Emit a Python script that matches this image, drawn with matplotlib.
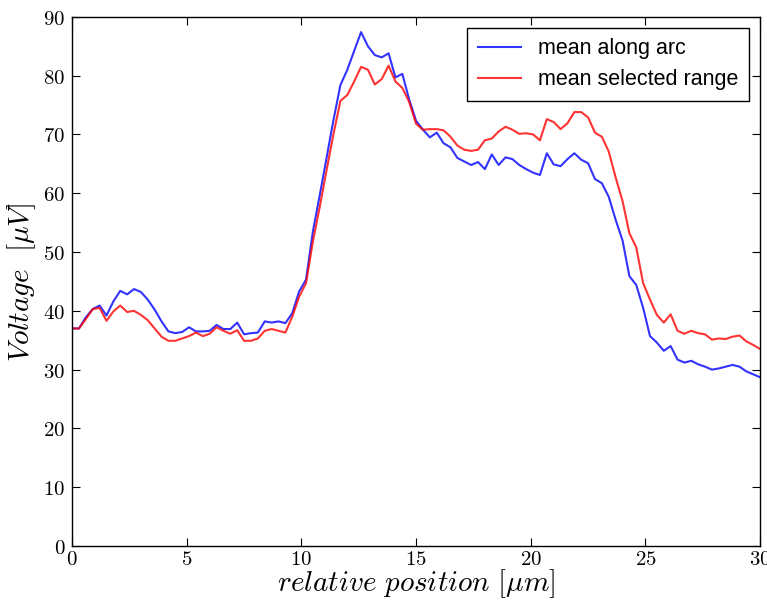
import numpy as np
from matplotlib import pyplot as plt
from matplotlib.ticker import FuncFormatter

plt.rcParams['mathtext.fontset'] = 'cm'

# positions along the arc, 0.3 um steps
position = np.arange(101) * 0.3

meanAlongArc = [
    37.0, 37.0, 38.9, 40.3, 40.9, 39.2, 41.6, 43.4, 42.8, 43.7,
    43.2, 41.9, 40.2, 38.2, 36.5, 36.2, 36.4, 37.2, 36.5, 36.5,
    36.6, 37.6, 36.9, 36.9, 38.0, 36.0, 36.2, 36.3, 38.2, 38.0,
    38.2, 37.9, 39.6, 43.3, 45.3, 53.5, 59.7, 66.1, 72.5, 78.4,
    81.0, 84.2, 87.4, 85.0, 83.5, 83.1, 83.8, 79.7, 80.3, 75.9,
    72.3, 70.8, 69.5, 70.3, 68.5, 67.8, 66.0, 65.4, 64.8, 65.3,
    64.1, 66.6, 64.8, 66.1, 65.8, 64.8, 64.1, 63.5, 63.1, 66.8,
    64.9, 64.6, 65.8, 66.8, 65.7, 65.1, 62.4, 61.7, 59.4, 55.5,
    52.0, 45.9, 44.4, 40.5, 35.7, 34.6, 33.2, 34.0, 31.7, 31.2,
    31.5, 30.9, 30.5, 30.0, 30.2, 30.5, 30.8, 30.5, 29.7, 29.2,
    28.7]

meanSelectedRange = [
    37.0, 37.0, 38.6, 40.3, 40.5, 38.3, 39.9, 40.9, 39.8, 40.0,
    39.3, 38.4, 37.0, 35.6, 34.9, 34.9, 35.3, 35.7, 36.3, 35.7,
    36.1, 37.2, 36.6, 36.1, 36.7, 34.9, 34.9, 35.3, 36.6, 36.9,
    36.6, 36.3, 39.0, 42.4, 44.7, 51.8, 57.7, 64.0, 70.1, 75.7,
    76.7, 79.0, 81.5, 81.0, 78.5, 79.4, 81.7, 79.0, 77.9, 75.5,
    71.8, 70.8, 70.9, 70.9, 70.7, 69.6, 68.1, 67.4, 67.2, 67.4,
    69.0, 69.3, 70.5, 71.3, 70.8, 70.1, 70.2, 70.0, 69.0, 72.6,
    72.1, 70.9, 71.9, 73.8, 73.8, 72.9, 70.3, 69.6, 67.1, 62.7,
    58.7, 53.2, 50.8, 44.7, 41.9, 39.3, 38.0, 39.4, 36.6, 36.1,
    36.6, 36.2, 36.0, 35.1, 35.3, 35.2, 35.6, 35.8, 34.8, 34.2,
    33.5]

fig = plt.figure(figsize=(7.67, 6.01), dpi=100, facecolor='white')
ax = fig.add_axes([0.094, 0.0915, 0.897, 0.8805])

ax.plot(position, meanAlongArc, color='b', alpha=0.8, lw=1.5, label='mean along arc')
ax.plot(position, meanSelectedRange, color='r', alpha=0.8, lw=1.5, label='mean selected range')

ax.set_xlim(0, 30)
ax.set_ylim(0, 90)
ax.set_xticks(np.arange(0, 31, 5))
ax.set_yticks(np.arange(0, 91, 10))
mathFmt = FuncFormatter(lambda v, pos: r'$%d$' % v)
ax.xaxis.set_major_formatter(mathFmt)
ax.yaxis.set_major_formatter(mathFmt)
ax.tick_params(direction='in', top=True, right=True, length=6, width=0.8,
               labelsize=15, pad=5)
ax.tick_params(axis='x', pad=2)
for s in ax.spines.values():
    s.set_linewidth(1.0)
    s.set_color('black')

ax.set_xlabel(r'$relative\ position\ [\mu m]$', fontsize=21, labelpad=-1)
ax.set_ylabel(r'$Voltage\ \ [\mu V]$', fontsize=21, labelpad=4)

leg = ax.legend(loc='upper right', prop={'family': 'Liberation Sans', 'size': 15.5},
                fancybox=False, framealpha=1, edgecolor='black',
                handlelength=2.0, labelspacing=0.45, borderpad=0.5,
                borderaxespad=0.5)
leg.get_frame().set_linewidth(1.0)

fig.savefig('out.png', dpi=100, facecolor='white')
